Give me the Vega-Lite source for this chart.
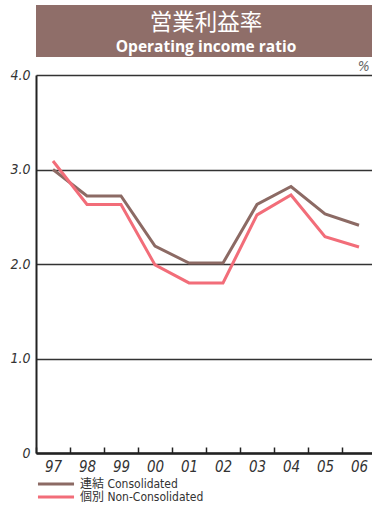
{
  "$schema": "https://vega.github.io/schema/vega-lite/v6.json",
  "padding": {"left": 9, "top": 5, "right": 0, "bottom": 0},
  "autosize": {"type": "pad"},
  "background": "white",
  "bounds": "flush",
  "spacing": 18,
  "config": {"view": {"stroke": null}},
  "vconcat": [
    {
      "width": 340,
      "height": 52,
      "view": {"fill": "#8f6e69", "stroke": null},
      "data": {"values": [
        {"line": "営業利益率", "row": "a"},
        {"line": "Operating income ratio", "row": "b"}
      ]},
      "encoding": {
        "y": {"field": "row", "type": "ordinal", "axis": null, "scale": {"type": "point", "range": [18, 42], "padding": 0}},
        "text": {"field": "line"}
      },
      "layer": [
        {"transform": [{"filter": "datum.row == 'a'"}], "mark": {"type": "text", "font": "Noto Sans CJK JP", "fontSize": 22.5, "color": "white", "baseline": "middle"}},
        {"transform": [{"filter": "datum.row == 'b'"}], "mark": {"type": "text", "font": "Open Sans", "fontWeight": "bold", "fontSize": 15.5, "color": "white", "baseline": "middle"}}
      ]
    },
    {
      "width": 340,
      "height": 378,
      "title": {"text": "%", "anchor": "end", "fontSize": 14, "fontStyle": "italic", "font": "DejaVu Sans Condensed, Liberation Sans, sans-serif", "color": "#666", "fontWeight": "normal", "offset": -6, "dx": -7},
      "data": {"values": [
        {"year": "97", "series": "連結 Consolidated", "value": 3.0},
        {"year": "98", "series": "連結 Consolidated", "value": 2.72},
        {"year": "99", "series": "連結 Consolidated", "value": 2.72},
        {"year": "00", "series": "連結 Consolidated", "value": 2.19},
        {"year": "01", "series": "連結 Consolidated", "value": 2.01},
        {"year": "02", "series": "連結 Consolidated", "value": 2.01},
        {"year": "03", "series": "連結 Consolidated", "value": 2.63},
        {"year": "04", "series": "連結 Consolidated", "value": 2.82},
        {"year": "05", "series": "連結 Consolidated", "value": 2.53},
        {"year": "06", "series": "連結 Consolidated", "value": 2.41},
        {"year": "97", "series": "個別 Non-Consolidated", "value": 3.09},
        {"year": "98", "series": "個別 Non-Consolidated", "value": 2.63},
        {"year": "99", "series": "個別 Non-Consolidated", "value": 2.63},
        {"year": "00", "series": "個別 Non-Consolidated", "value": 1.99},
        {"year": "01", "series": "個別 Non-Consolidated", "value": 1.8},
        {"year": "02", "series": "個別 Non-Consolidated", "value": 1.8},
        {"year": "03", "series": "個別 Non-Consolidated", "value": 2.52},
        {"year": "04", "series": "個別 Non-Consolidated", "value": 2.73},
        {"year": "05", "series": "個別 Non-Consolidated", "value": 2.29},
        {"year": "06", "series": "個別 Non-Consolidated", "value": 2.18}
      ]},
      "mark": {"type": "line", "strokeWidth": 3},
      "encoding": {
        "x": {"field": "year", "type": "ordinal", "sort": null,
          "scale": {"type": "band", "paddingInner": 0, "paddingOuter": 0},
          "axis": {"title": null, "labelAngle": 0, "tickBand": "extent", "tickSize": -6, "tickColor": "#222", "tickWidth": 1.5, "domainColor": "#222", "domainWidth": 2.5, "labelFont": "DejaVu Sans Condensed, Liberation Sans, sans-serif", "labelFontStyle": "italic", "labelFontSize": 15, "labelColor": "#333", "labelPadding": 12}},
        "y": {"field": "value", "type": "quantitative", "scale": {"domain": [0, 4]},
          "axis": {"title": null, "values": [0, 1, 2, 3, 4], "labelExpr": "datum.value == 0 ? '0' : format(datum.value, '.1f')", "ticks": false, "grid": true, "gridColor": "#333", "gridWidth": 1.5, "domainColor": "#222", "domainWidth": 2, "labelFont": "DejaVu Sans Condensed, Liberation Sans, sans-serif", "labelFontStyle": "italic", "labelFontSize": 14, "labelColor": "#333", "labelPadding": 6}},
        "color": {"field": "series", "type": "nominal", "sort": null,
          "scale": {"range": ["#8c6a64", "#f26d79"]},
          "legend": {"title": null, "orient": "bottom", "direction": "vertical", "symbolType": "stroke", "symbolStrokeWidth": 3, "symbolSize": 1300, "clipHeight": 12, "labelFont": "DejaVu Sans Condensed, Noto Sans CJK JP, sans-serif", "labelFontSize": 12, "labelColor": "#333", "rowPadding": 1, "offset": 4}}
      }
    }
  ]
}
